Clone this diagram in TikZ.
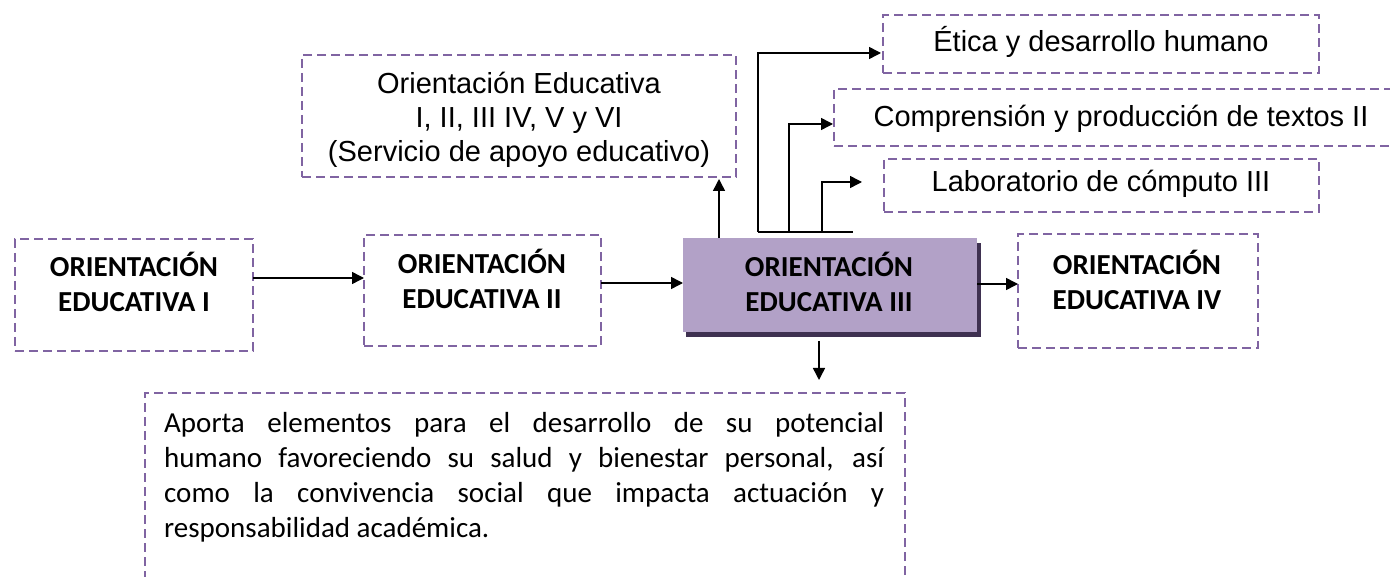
\documentclass[tikz,border=0pt]{standalone}
\usepackage{fontspec}
\usetikzlibrary{arrows.meta,calc}
\newfontfamily\arialf{Liberation Sans}
\newfontfamily\calf{Carlito}
\definecolor{dpurple}{HTML}{8064A2}
\definecolor{boxfill}{HTML}{B2A1C7}
\definecolor{shadowc}{HTML}{3F3151}
\newcommand{\ml}[1]{\begin{tabular}[t]{@{}c@{}}#1\end{tabular}}
\begin{document}
\begin{tikzpicture}[x=1pt,y=-1pt,
 dbox/.style={draw=dpurple, line width=2.5pt, dash pattern=on 9pt off 5pt, inner sep=0pt, outer sep=0pt},
 btext/.style={font=\calf\bfseries\fontsize{29}{35}\selectfont, anchor=base, inner sep=0pt},
 atext/.style={font=\arialf\fontsize{29}{34}\selectfont, anchor=base, inner sep=0pt},
 arr/.style={draw=black, line width=1.5pt, -{Triangle[length=12pt,width=12pt]}},
 ln/.style={draw=black, line width=1.5pt}]
\useasboundingbox (0,0) rectangle (1390,577);
\clip (0,0) rectangle (1390,577);

% main row
\node[dbox, minimum width=238pt, minimum height=112pt] (b1) at (134,295) {};
\node[btext] (t1) at (134,277) {\ml{ORIENTACIÓN\\EDUCATIVA I}};
\node[dbox, minimum width=237pt, minimum height=111pt] (b2) at (482.5,290.5) {};
\node[btext] (t2) at (482,274) {\ml{ORIENTACIÓN\\EDUCATIVA II}};
\fill[shadowc] (686,243) rectangle (981,337);
\node[fill=boxfill, minimum width=294pt, minimum height=94pt, inner sep=0pt, outer sep=0pt] (b3) at (830,285) {};
\node[btext] (t3) at (829,277) {\ml{ORIENTACIÓN\\EDUCATIVA III}};
\node[dbox, minimum width=240pt, minimum height=114pt] (b4) at (1138,291) {};
\node[btext] (t4) at (1137,275) {\ml{ORIENTACIÓN\\EDUCATIVA IV}};

% upper boxes
\node[dbox, minimum width=434pt, minimum height=122pt] (ob) at (519,116) {};
\node[atext] (ot) at (519,94) {\ml{Orientación Educativa\\I, II, III IV, V y VI\\(Servicio de apoyo educativo)}};
\node[dbox, minimum width=436pt, minimum height=58pt] (eb) at (1101,44) {};
\node[atext] (et) at (1101,52) {Ética y desarrollo humano};
\node[dbox, minimum width=580pt, minimum height=57pt] (cb) at (1124,117.5) {};
\node[atext] (ct) at (1121,127) {Comprensión y producción de textos II};
\node[dbox, minimum width=435pt, minimum height=53pt] (lb) at (1101.5,185.5) {};
\node[atext] (lt) at (1101,192) {Laboratorio de cómputo III};

% lower box
\node[dbox, minimum width=760pt, minimum height=220pt] (pb) at (525,503) {};
\node[anchor=base west, inner sep=0pt] (ptx) at (164,432) {\parbox[t]{720pt}{\calf\fontsize{29}{35}\selectfont\hyphenpenalty=10000\tolerance=10000
Aporta elementos para el desarrollo de su potencial\linebreak humano favoreciendo su salud y bienestar personal, así\linebreak como la convivencia social que impacta actuación y\linebreak responsabilidad académica.}};

% connectors in main row
\coordinate (a1) at ([yshift=17pt]b1.east);
\draw[arr] (a1) -- (a1 -| b2.west);
\coordinate (a2) at ([yshift=2pt]b3.west);
\draw[arr] (a2 -| b2.east) -- (a2);
\coordinate (a3) at ([yshift=1pt]b3.east);
\draw[arr] (a3) -- (a3 -| b4.west);

% down arrow
\coordinate (d1) at ($(b3.south)+(-11,9)$);
\draw[arr] (d1) -- ($(d1 |- pb.north)+(0,-13)$);

% up arrow
\coordinate (u1) at ($(b3.north west)+(36,0)$);
\draw[arr] (u1) -- ($(u1 |- ob.south)+(0,2)$);

% elbow connectors
\coordinate (j1) at ($(b3.north west)+(75,-6)$);
\coordinate (j2) at ($(b3.north west)+(170,-6)$);
\coordinate (j3) at ($(j1)+(31,0)$);
\coordinate (j4) at ($(j1)+(64,0)$);
\draw[ln] (j1) -- (j2);
\draw[arr] (j1) |- ($(eb.west)+(-2,9)$);
\draw[arr] (j3) |- ($(cb.west)+(-1,6.5)$);
\draw[arr] (j4) |- ($(lb.west)+(-22,-3.5)$);
\end{tikzpicture}
\end{document}
